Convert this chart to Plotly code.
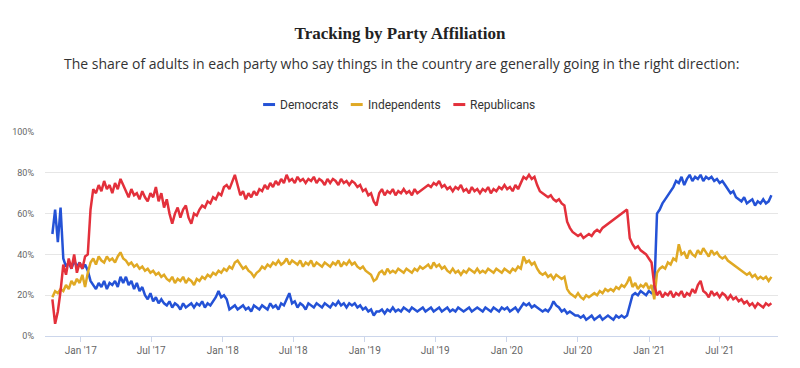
import pandas as pd
import plotly.graph_objects as go

# ---------------- data (weekly readings) ----------------
start_date = "2016-10-20"
series_names = ["Democrats", "Independents", "Republicans"]

democrats = [
    50, 62, 46, 63, 38, 34, 36, 33, 37, 34,
    36, 33, 35, 32, 27, 25, 23, 26, 24, 27,
    23, 26, 25, 27, 24, 29, 26, 29, 25, 27,
    23, 26, 22, 24, 20, 18, 21, 17, 19, 16,
    18, 16, 15, 17, 14, 16, 15, 13, 16, 14,
    15, 16, 14, 16, 15, 17, 14, 16, 15, 17,
    19, 22, 19, 20, 18, 13, 14, 15, 13, 14,
    15, 13, 14, 12, 15, 14, 13, 15, 14, 13,
    16, 14, 15, 13, 16, 15, 18, 21, 16, 17,
    14, 16, 15, 13, 16, 15, 14, 16, 15, 14,
    16, 15, 14, 16, 15, 17, 15, 16, 14, 16,
    15, 16, 14, 15, 13, 14, 12, 13, 10, 12,
    12, 13, 11, 13, 12, 14, 12, 13, 12, 14,
    13, 12, 14, 13, 12, 13, 14, 12, 13, 14,
    12, 13, 14, 12, 13, 14, 12, 13, 12, 14,
    13, 12, 13, 14, 12, 13, 14, 13, 12, 14,
    13, 12, 14, 13, 12, 14, 13, 14, 12, 13,
    14, 12, 14, 16, 15, 16, 14, 15, 14, 13,
    12, 13, 12, 14, 17, 15, 14, 12, 13, 11,
    12, 11, 10, 10, 9, 10, 8, 9, 10, 8,
    9, 10, 8, 9, 10, 9, 8, 10, 9, 10,
    9, 10, 15, 20, 21, 20, 22, 21, 20, 22,
    21, 22, 60, 62, 65, 67, 69, 71, 73, 76,
    75, 78, 74, 77, 79, 76, 78, 77, 79, 76,
    78, 77, 78, 76, 77, 75, 76, 74, 72, 70,
    71, 68, 67, 66, 68, 65, 66, 67, 64, 66,
    65, 67, 65, 66, 69,
]

independents = [
    19, 22, 21, 23, 22, 25, 23, 27, 25, 28,
    26, 30, 24, 31, 36, 38, 35, 39, 37, 36,
    39, 37, 38, 36, 39, 41, 38, 37, 35, 36,
    34, 35, 33, 34, 32, 33, 31, 32, 30, 31,
    29, 30, 28, 27, 29, 26, 28, 27, 29, 26,
    28, 27, 25, 28, 27, 29, 28, 30, 29, 31,
    30, 32, 31, 33, 32, 34, 33, 36, 37, 35,
    33, 34, 32, 31, 29, 31, 32, 34, 33, 35,
    34, 36, 35, 37, 35, 36, 38, 35, 37, 36,
    35, 37, 34, 36, 35, 37, 34, 36, 35, 34,
    36, 35, 34, 36, 35, 37, 34, 36, 35, 37,
    35, 36, 34, 33, 34, 32, 31, 30, 27, 28,
    31, 32, 30, 33, 31, 32, 31, 33, 32, 31,
    33, 32, 31, 33, 32, 34, 33, 34, 35, 33,
    36, 34, 35, 33, 34, 32, 31, 33, 31, 32,
    30, 32, 31, 33, 32, 31, 33, 31, 32, 31,
    33, 32, 31, 33, 32, 31, 33, 32, 31, 33,
    32, 34, 33, 39, 36, 37, 35, 36, 33, 31,
    30, 31, 29, 30, 28, 30, 29, 28, 29, 23,
    21, 20, 19, 21, 19, 18, 20, 19, 20, 21,
    20, 22, 21, 23, 22, 23, 22, 24, 23, 25,
    24, 26, 29, 24, 26, 23, 25, 24, 26, 23,
    25, 18, 31, 33, 34, 33, 36, 35, 38, 37,
    45, 40, 41, 38, 42, 40, 39, 42, 40, 43,
    41, 39, 42, 40, 41, 39, 38, 39, 37, 36,
    35, 34, 33, 32, 31, 30, 31, 29, 30, 28,
    29, 28, 29, 27, 29,
]

republicans = [
    18, 6, 12, 22, 35, 30, 38, 33, 40, 31,
    36, 33, 39, 40, 62, 72, 70, 74, 71, 76,
    72, 74, 70, 75, 72, 77, 74, 71, 68, 72,
    69, 70, 67, 71, 68, 66, 70, 68, 73, 66,
    70, 63, 67, 60, 55, 60, 63, 58, 62, 64,
    58, 55, 60, 59, 62, 64, 63, 66, 65, 68,
    67, 70, 69, 73, 74, 72, 76, 79, 74, 69,
    71, 67, 70, 68, 71, 69, 72, 71, 74, 72,
    75, 73, 76, 74, 77, 75, 79, 76, 77, 75,
    78, 76, 77, 75, 77, 76, 78, 75, 77, 76,
    74, 77, 75, 77, 76, 74, 77, 75, 76, 74,
    76, 75, 73, 74, 71, 72, 69, 70, 66, 64,
    70, 72, 69, 71, 70, 72, 69, 71, 70, 72,
    70, 71, 69, 72, 70, 71, 72, 73, 74, 73,
    75, 74, 76, 73, 74, 72, 73, 71, 73, 72,
    74, 71, 72, 70, 73, 71, 72, 70, 72, 71,
    73, 70, 72, 71, 73, 72, 74, 72, 73, 71,
    74, 72, 75, 78, 77, 79, 77, 78, 74, 71,
    70, 69, 68, 69, 67, 66, 67, 65, 64, 56,
    53, 51, 50, 49, 50, 48, 49, 50, 49, 51,
    52, 51, 53, 54, 55, 56, 57, 58, 59, 60,
    61, 62, 48, 45, 43, 44, 42, 41, 40, 38,
    36, 25, 20, 22, 19, 21, 20, 22, 19, 21,
    20, 22, 19, 21, 20, 23, 21, 25, 27, 22,
    21, 19, 22, 20, 21, 19, 21, 20, 18, 20,
    18, 19, 17, 18, 16, 17, 15, 16, 14, 16,
    15, 14, 16, 15, 16,
]

tick_dates = ["2017-01-01", "2017-07-01", "2018-01-01", "2018-07-01", "2019-01-01",
              "2019-07-01", "2020-01-01", "2020-07-01", "2021-01-01", "2021-07-01"]
tick_labels = ["Jan '17", "Jul '17", "Jan '18", "Jul '18", "Jan '19",
               "Jul '19", "Jan '20", "Jul '20", "Jan '21", "Jul '21"]
y_ticks = [0, 20, 40, 60, 80, 100]
y_tick_labels = [f"{v}%" for v in y_ticks]

title_text = "Tracking by Party Affiliation"
subtitle_text = ("The share of adults in each party who say things in the country "
                 "are generally going in the right direction:")

# ---------------- styling ----------------
colors = {"Democrats": "#2452d6", "Independents": "#e0a924", "Republicans": "#e3303b"}
W, H = 800, 368
ml, mr, mt, mb = 42, 22, 132, 28
pw, ph = W - ml - mr, H - mt - mb


def px_x(x):
    return (x - ml) / pw


def px_y(y):
    return (H - mb - y) / ph


dates = pd.date_range(start_date, periods=len(democrats), freq="7D")

fig = go.Figure()
for name, vals in zip(series_names, [democrats, independents, republicans]):
    fig.add_trace(go.Scatter(
        x=dates, y=vals, mode="lines", name=name,
        line=dict(color=colors[name], width=2.5), showlegend=False,
        hovertemplate="%{x|%b %d, %Y}: %{y}%<extra>" + name + "</extra>",
    ))

# custom legend (short line symbols like the reference)
legend_sym_x = [261, 349, 452]
legend_y = 104
shapes = []
annotations = []
for name, sx in zip(series_names, legend_sym_x):
    shapes.append(dict(type="line", xref="paper", yref="paper",
                       x0=px_x(sx), x1=px_x(sx + 12), y0=px_y(legend_y), y1=px_y(legend_y),
                       line=dict(color=colors[name], width=3)))
    annotations.append(dict(xref="paper", yref="paper", x=px_x(sx + 15), y=px_y(legend_y),
                            xanchor="left", yanchor="middle", showarrow=False, text=name,
                            font=dict(family="Roboto", size=12, color="#333333")))

annotations.append(dict(xref="paper", yref="paper", x=0.5 - (ml - mr) / 2 / pw, y=px_y(62),
                        xanchor="center", yanchor="middle", showarrow=False,
                        text=subtitle_text,
                        font=dict(family="Open Sans", size=14, color="#333333")))

fig.update_layout(
    width=W, height=H, autosize=False,
    margin=dict(l=ml, r=mr, t=mt, b=mb),
    paper_bgcolor="white", plot_bgcolor="white",
    title=dict(text="<b>" + title_text + "</b>", x=0.5, xref="container",
               y=1 - 33 / H, yref="container", xanchor="center", yanchor="middle",
               font=dict(family="Liberation Serif", size=17, color="#222222")),
    shapes=shapes, annotations=annotations,
    xaxis=dict(type="date", range=["2016-10-01", "2021-11-28"],
               tickvals=tick_dates, ticktext=tick_labels,
               ticks="outside", ticklen=5, tickcolor="#ccd6eb",
               showline=True, linecolor="#ccd6eb", linewidth=1,
               showgrid=False, zeroline=False,
               tickfont=dict(family="Roboto", size=10, color="#666666")),
    yaxis=dict(range=[0, 100], tickvals=y_ticks, ticktext=y_tick_labels,
               showgrid=True, gridcolor="#e6e6e6", zeroline=False, showline=False,
               ticks="", ticklabelstandoff=10,
               tickfont=dict(family="Roboto", size=9, color="#666666")),
    hovermode="closest",
)

fig.write_html("out.html", config={"displayModeBar": False},
               post_script="document.body.style.margin='0';")
